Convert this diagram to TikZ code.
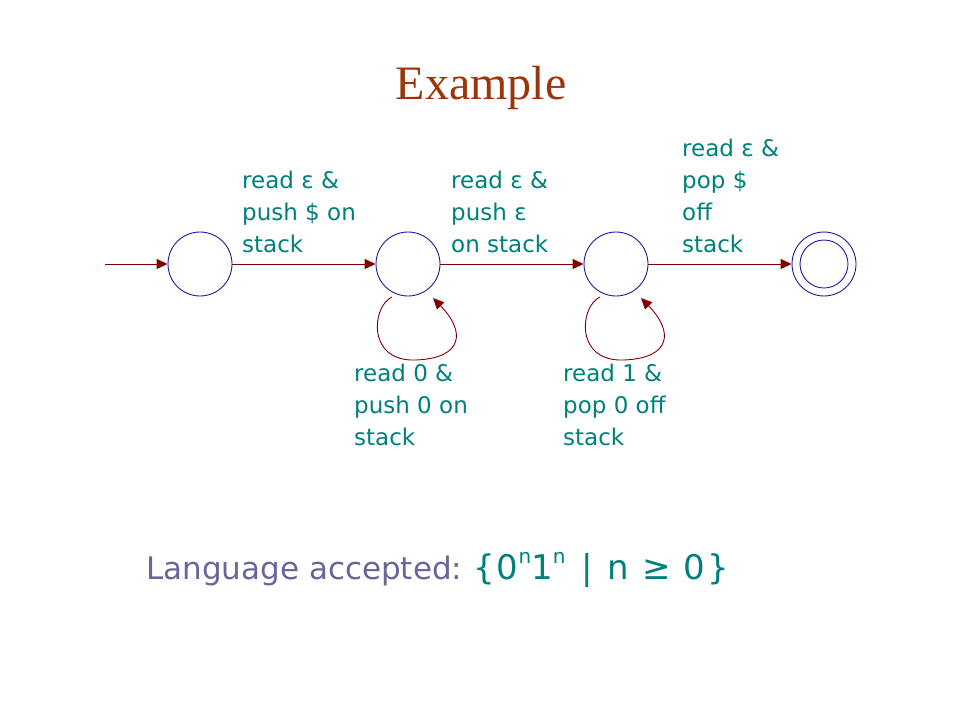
\documentclass[tikz,border=0pt]{standalone}
\usepackage{fontspec}
\setmainfont{DejaVu Sans}
\newfontfamily\titlefont{Liberation Serif}
\newfontfamily\setfont[LetterSpace=6]{DejaVu Sans}
\usetikzlibrary{arrows.meta,calc}
\definecolor{edgered}{HTML}{800000}
\definecolor{stateblue}{HTML}{1A1AA0}
\definecolor{labteal}{HTML}{00807A}
\definecolor{titlebrown}{HTML}{9A3608}
\definecolor{langpurple}{HTML}{666699}
\tikzset{
  statenode/.style={circle, draw=stateblue, line width=0.9pt, minimum size=64pt, inner sep=0pt},
  edge/.style={draw=edgered, line width=0.9pt, -{Triangle[length=11pt,width=10pt]}},
  lab/.style={anchor=north west, inner sep=0pt, align=left, text=labteal,
     font=\fontsize{23}{32}\selectfont},
}
\begin{document}
\begin{tikzpicture}[x=1pt,y=-1pt]
\useasboundingbox (0,0) rectangle (960,720);
\node[font=\titlefont\fontsize{48}{52}\selectfont, text=titlebrown] (title) at (481,88) {Example};

\node[statenode] (s1) at (200,264) {};
\node[statenode] (s2) at (408,264) {};
\node[statenode] (s3) at (616,264) {};
\node[statenode] (s4) at (824,264) {};
\node[circle, draw=stateblue, line width=0.9pt, minimum size=48pt, inner sep=0pt] (s4in) at (s4) {};
\coordinate (start) at (105,264);

\draw[edge] (start) -- (s1);
\draw[edge] (s1) -- (s2);
\draw[edge] (s2) -- (s3);
\draw[edge] (s3) -- (s4);

\draw[edge] ($(s2.center)+(-16,33)$) .. controls ($(s2.center)+(-36,42)$) and ($(s2.center)+(-42,98)$) .. ($(s2.center)+(8,96)$)
   .. controls ($(s2.center)+(55,94)$) and ($(s2.center)+(58,68)$) .. ($(s2.center)+(25,34)$);
\draw[edge] ($(s3.center)+(-16,33)$) .. controls ($(s3.center)+(-36,42)$) and ($(s3.center)+(-42,98)$) .. ($(s3.center)+(8,96)$)
   .. controls ($(s3.center)+(55,94)$) and ($(s3.center)+(58,68)$) .. ($(s3.center)+(25,34)$);

\node[lab] (l1) at (242,171) {read ε \&\\push \$ on\\stack};
\node[lab] (l2) at (451,171) {read ε \&\\push ε\\on stack};
\node[lab] (l3) at (682,139) {read ε \&\\pop \$\\off\\stack};
\node[lab] (l4) at (354,364) {read 0 \&\\push 0 on\\stack};
\node[lab] (l5) at (563,364) {read 1 \&\\pop 0 off\\stack};

\node[anchor=base west, inner sep=0pt, text=langpurple, font=\fontsize{31}{36}\selectfont] (lang) at (146,579) {Language accepted:};
\node[anchor=base west, inner sep=0pt, text=labteal, font=\setfont\fontsize{34}{38}\selectfont] (set) at (473,579)
  {\{0\raisebox{0.45em}{\fontsize{20}{20}\selectfont n}1\raisebox{0.45em}{\fontsize{20}{20}\selectfont n}\hspace{3pt} | \hspace{2pt}n ≥ 0\}};
\end{tikzpicture}
\end{document}
